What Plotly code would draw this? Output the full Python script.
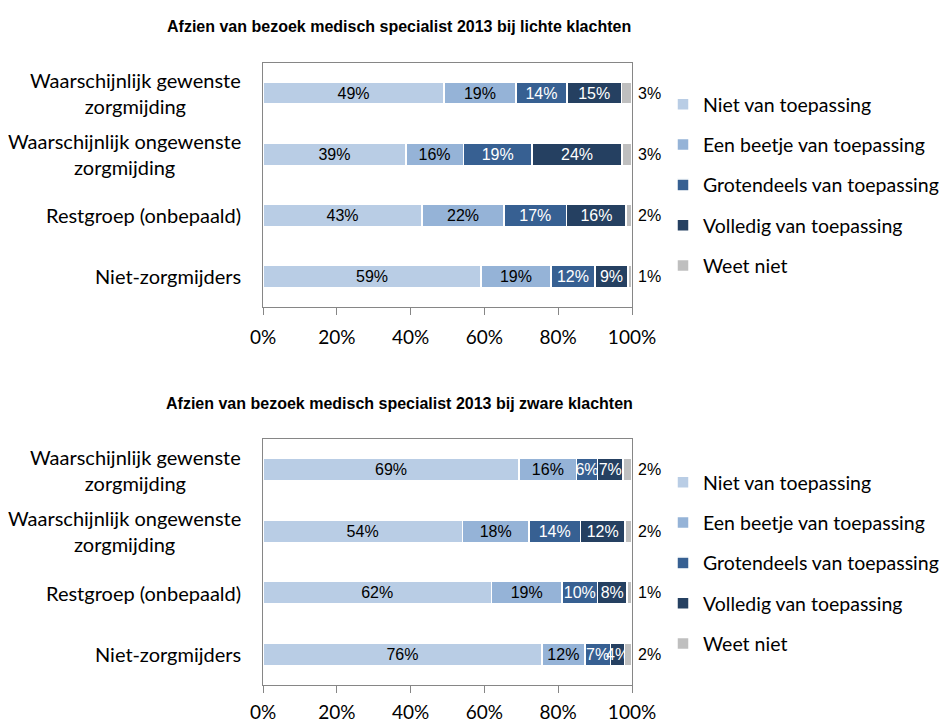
import plotly.graph_objs as go

# categories (top to bottom)
categories = ["Waarschijnlijk gewenste zorgmijding",
              "Waarschijnlijk ongewenste zorgmijding",
              "Restgroep (onbepaald)",
              "Niet-zorgmijders"]
category_labels = ["Waarschijnlijk gewenste<br>zorgmijding",
                   "Waarschijnlijk ongewenste<br>zorgmijding",
                   "Restgroep (onbepaald)",
                   "Niet-zorgmijders"]

series_names = ["Niet van toepassing", "Een beetje van toepassing",
                "Grotendeels van toepassing", "Volledig van toepassing", "Weet niet"]

tick_values = [0, 20, 40, 60, 80, 100]
tick_labels = ["0%", "20%", "40%", "60%", "80%", "100%"]

# lichte klachten (%)
licht_niet = [49.1, 38.7, 43.1, 59.1]
licht_beetje = [19.4, 15.6, 22.2, 18.9]
licht_groot = [13.9, 18.6, 17.0, 12.0]
licht_volledig = [14.7, 24.4, 16.1, 8.9]
licht_weet = [2.9, 2.7, 1.6, 1.1]

# zware klachten (%)
zwaar_niet = [69.4, 54.0, 61.9, 75.6]
zwaar_beetje = [15.6, 18.1, 19.1, 11.6]
zwaar_groot = [5.6, 13.9, 9.7, 7.0]
zwaar_volledig = [7.0, 12.1, 7.9, 3.8]
zwaar_weet = [2.4, 1.9, 1.4, 2.0]

titles = ["Afzien van bezoek medisch specialist 2013 bij lichte klachten",
          "Afzien van bezoek medisch specialist 2013 bij zware klachten"]

colors = ["#B9CDE5", "#95B3D7", "#376092", "#254061", "#BFBFBF"]
text_colors = ["black", "black", "white", "white", "black"]

# the html page has an 8px body margin, so the figure is drawn 8px smaller
OFF = 8
W, H = 947 - OFF, 720 - OFF
LABEL_FONT = "Lato"


def fx(px):
    return (px - OFF) / W


def fy(py):
    return 1 - (py - OFF) / H


fig = go.Figure()

panels = [
    ([licht_niet, licht_beetje, licht_groot, licht_volledig, licht_weet], "x", "y", "legend"),
    ([zwaar_niet, zwaar_beetje, zwaar_groot, zwaar_volledig, zwaar_weet], "x2", "y2", "legend2"),
]

annotations = []
for values, xa, ya, lg in panels:
    for i, (name, vals) in enumerate(zip(series_names, values)):
        last = i == len(series_names) - 1
        fig.add_trace(go.Bar(
            y=categories, x=vals, name=name, orientation="h",
            xaxis=xa, yaxis=ya, legend=lg, legendgroup=lg + name,
            marker=dict(color=colors[i], line=dict(color="white", width=1.5)),
            texttemplate="" if last else "%{x:.0f}%",
            textposition="none" if last else "inside",
            insidetextanchor="middle",
            constraintext="none",
            textangle=0,
            cliponaxis=False,
            textfont=dict(family="Arial", size=16, color=text_colors[i]),
        ))
    # "Weet niet" labels sit outside the bar end
    total = [sum(v) for v in zip(*values)]
    for cat, tot, w in zip(categories, total, values[-1]):
        annotations.append(dict(text=f"{w:.0f}%", xref=xa, yref=ya, x=tot, y=cat,
                                xanchor="center", yanchor="middle", xshift=17,
                                showarrow=False,
                                font=dict(family="Arial", size=16, color="black")))

axis_x = dict(range=[0, 100], tickvals=tick_values, ticktext=tick_labels,
              showgrid=False, showline=True, mirror=True, linecolor="#868686", linewidth=1.3,
              ticks="outside", ticklen=7, tickcolor="#868686", tickwidth=1.3,
              tickfont=dict(family=LABEL_FONT, size=19, color="black"), zeroline=False,
              automargin=False, fixedrange=True)
axis_y = dict(categoryorder="array", categoryarray=categories, autorange="reversed",
              showticklabels=False, showgrid=False, showline=True, mirror=True,
              linecolor="#868686", linewidth=1.3, ticks="", zeroline=False,
              automargin=False, fixedrange=True)

px0, px1 = 263, 632
dom_x = [fx(px0), fx(px1)]

legend_common = dict(font=dict(family=LABEL_FONT, size=19.5, color="black"),
                     xanchor="left", yanchor="top", x=fx(663), tracegroupgap=12,
                     bgcolor="rgba(0,0,0,0)", itemclick=False)

fig.update_layout(
    width=W, height=H, barmode="stack", bargap=0.64,
    plot_bgcolor="white", paper_bgcolor="white",
    margin=dict(l=0, r=0, t=0, b=0, autoexpand=False),
    xaxis=dict(axis_x, domain=dom_x, anchor="y", ticklabelstandoff=6),
    yaxis=dict(axis_y, domain=[fy(307), fy(62.7)], anchor="x"),
    xaxis2=dict(axis_x, domain=dom_x, anchor="y2", ticklabelstandoff=3),
    yaxis2=dict(axis_y, domain=[fy(685), fy(439)], anchor="x2"),
    legend=dict(legend_common, y=fy(85)),
    legend2=dict(legend_common, y=fy(463)),
    showlegend=True,
)

for t, ty in zip(titles, [26, 403]):
    annotations.append(dict(text="<b>" + t + "</b>", xref="paper", yref="paper",
                            x=fx(399), y=fy(ty), xanchor="center", yanchor="middle",
                            showarrow=False, font=dict(family="Arial", size=16, color="black")))
for ya in ["y", "y2"]:
    for cat, lab in zip(categories, category_labels):
        annotations.append(dict(text=lab, xref="paper", yref=ya, x=fx(px0), y=cat,
                                xanchor="right", yanchor="middle", xshift=-20, align="center",
                                showarrow=False,
                                font=dict(family=LABEL_FONT, size=20, color="black")))
fig.update_layout(annotations=annotations)

fig.write_html("out.html")
